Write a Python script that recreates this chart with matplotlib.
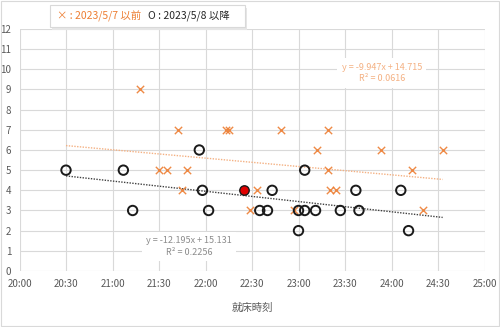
import matplotlib
matplotlib.use("Agg")
import matplotlib.pyplot as plt
from matplotlib.patches import Rectangle
import numpy as np

plt.rcParams['font.family'] = ['Noto Sans CJK JP', 'DejaVu Sans']

# 就床時刻 (HH:MM, 24時以降は翌日) と値
before_times = ["21:18", "21:42", "22:13", "22:15", "22:49", "23:19",
                "23:12", "23:53", "24:33",
                "21:30", "21:35", "21:48", "23:19", "24:13",
                "21:45", "22:33", "23:20", "23:24",
                "22:29", "22:57", "24:20"]
before_vals = [9, 7, 7, 7, 7, 7,
               6, 6, 6,
               5, 5, 5, 5, 5,
               4, 4, 4, 4,
               3, 3, 3]

after_times = ["20:30", "21:07", "21:13", "21:56", "21:58", "22:02",
               "22:35", "22:40", "22:43", "23:00", "23:00", "23:04",
               "23:04", "23:11", "23:27", "23:37", "23:39", "24:06", "24:11"]
after_vals = [5, 5, 3, 6, 4, 3,
              3, 3, 4, 3, 2, 3,
              5, 3, 3, 4, 3, 4, 2]

# 強調表示する点
hl_times = ["22:25"]
hl_vals = [4]

# 近似直線 (x は日単位)
fit_before = (-9.947, 14.715, 0.0616)
fit_after = (-12.195, 15.131, 0.2256)
fit_range = ["20:30", "24:33"]

xtick_labels = ["20:00", "20:30", "21:00", "21:30", "22:00", "22:30",
                "23:00", "23:30", "24:00", "24:30", "25:00"]
yticks = list(range(0, 13))

orange = '#ED7D31'
grey_text = '#8c8c8c'


def to_day(t):
    h, m = t.split(":")
    return (int(h) * 60 + int(m)) / 1440.0


fig = plt.figure(figsize=(5.0, 3.27), dpi=100)
ax = fig.add_axes([0.039, 0.1713, 0.930, 0.740])

xb = [to_day(t) for t in before_times]
xa = [to_day(t) for t in after_times]
xh = [to_day(t) for t in hl_times]

# 近似直線
xr = np.array([to_day(t) for t in fit_range])
ax.plot(xr, fit_before[0] * xr + fit_before[1], color='#F4B183', lw=1.0,
        ls=(0, (1, 1)), zorder=2)
ax.plot(xr, fit_after[0] * xr + fit_after[1], color='#404040', lw=1.0,
        ls=(0, (1, 1)), zorder=2)

ax.scatter(xb, before_vals, marker='x', s=28, color=orange, linewidths=1.0,
           alpha=0.9, zorder=3)
ax.scatter(xa, after_vals, marker='o', s=46, facecolors='none',
           edgecolors='#1a1a1a', linewidths=1.4, zorder=4)
ax.scatter(xh, hl_vals, marker='o', s=46, facecolors='#E00000',
           edgecolors='#1a1a1a', linewidths=1.0, zorder=5)

ax.set_xlim(to_day("20:00"), to_day("25:00"))
ax.set_ylim(0, 12)
ax.set_xticks([to_day(t) for t in xtick_labels])
ax.set_xticklabels(xtick_labels)
ax.set_yticks(yticks)
ax.tick_params(axis='both', length=0, labelsize=7, colors='#595959')
ax.tick_params(axis='x', pad=6)
ax.tick_params(axis='y', pad=6)
ax.grid(True, color='#d9d9d9', lw=0.8)
ax.set_axisbelow(True)
for s in ax.spines.values():
    s.set_visible(False)

ax.set_xlabel("就床時刻", fontsize=7.5, color='#595959', labelpad=10)

# 近似式ラベル
ax.text(to_day("23:53") + 0.0005, 9.3,
        "y = %.3fx + %.3f\nR² = %.4f" % fit_before,
        ha='center', va='bottom', fontsize=6.5, color='#F4B183',
        linespacing=1.4,
        bbox=dict(facecolor='white', edgecolor='none', pad=3))
ax.text(to_day("21:50") - 0.0005, 0.7,
        "y = %.3fx + %.3f\nR² = %.4f" % fit_after,
        ha='center', va='bottom', fontsize=6.5, color=grey_text,
        linespacing=1.4,
        bbox=dict(facecolor='white', edgecolor='none', pad=3))

# 凡例
W, H = 500.0, 327.0
lx0, ly0, lx1, ly1 = 50, 5, 245, 27
fig.patches.append(Rectangle((lx0 / W + 0.004, 1 - ly1 / H - 0.008),
                             (lx1 - lx0) / W, (ly1 - ly0) / H,
                             transform=fig.transFigure, facecolor='#e6e6e6',
                             edgecolor='none', zorder=0))
fig.patches.append(Rectangle((lx0 / W, 1 - ly1 / H),
                             (lx1 - lx0) / W, (ly1 - ly0) / H,
                             transform=fig.transFigure, facecolor='white',
                             edgecolor='#d9d9d9', lw=0.8, zorder=1))
fig.text(57 / W, 1 - 16 / H, "× : 2023/5/7 以前", color=orange, fontsize=7.5,
         ha='left', va='center', zorder=2)
fig.text(148 / W, 1 - 16 / H, "O : 2023/5/8 以降", color='#262626',
         fontsize=7.5, ha='left', va='center', zorder=2)

# 外枠
fig.patches.append(Rectangle((0.002, 0.003), 0.995, 0.993,
                             transform=fig.transFigure, facecolor='none',
                             edgecolor='#d9d9d9', lw=0.8))

fig.savefig("out.png", dpi=100)
